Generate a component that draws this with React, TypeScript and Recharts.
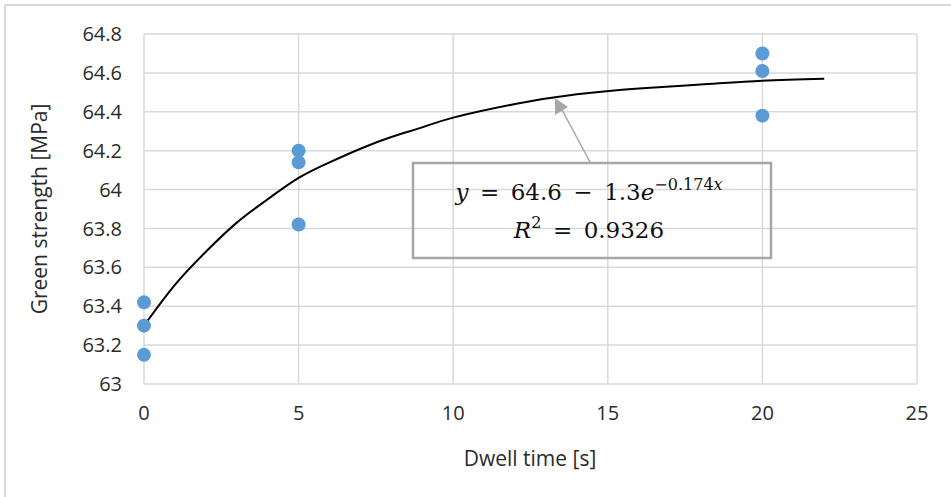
import React from "react";
import {
  CartesianGrid,
  ComposedChart,
  Line,
  Scatter,
  XAxis,
  YAxis,
} from "recharts";

// measured points (dwell time s, green strength MPa)
const dwell = [0, 0, 0, 5, 5, 5, 20, 20, 20];
const strength = [63.42, 63.3, 63.15, 64.2, 64.14, 63.82, 64.7, 64.61, 64.38];

// fitted curve
const fitX = [0, 1, 2, 3, 4, 5, 6, 7, 8, 9, 10, 12, 14, 16, 18, 20, 22];
const fitY = [63.3, 63.51, 63.68, 63.83, 63.95, 64.06, 64.14, 64.21, 64.27, 64.32, 64.37, 64.44, 64.49, 64.52, 64.54, 64.56, 64.57];

const xTicks = [0, 5, 10, 15, 20, 25];
const yTicks = [63, 63.2, 63.4, 63.6, 63.8, 64, 64.2, 64.4, 64.6, 64.8];

const points = dwell.map((x, i) => ({ x, y: strength[i] }));
const fit = fitX.map((x, i) => ({ x, y: fitY[i] }));

const FONT = "'Open Sans', sans-serif";
const TXT = "#2b2b2b";
const SERIF = "'DejaVu Serif', serif";
const SP = "\u2002";

const Dot = (props: any) => (
  <circle cx={props.cx} cy={props.cy} r={7} fill="#5b9bd5" />
);

export default function App() {
  return (
    <div
      style={{
        position: "absolute",
        left: 0,
        top: 0,
        width: 951,
        height: 497,
        background: "#fff",
      }}
    >
      <ComposedChart
        width={951}
        height={497}
        margin={{ top: 34, right: 34, left: 84, bottom: 83 }}
      >
        <CartesianGrid stroke="#d9d9d9" strokeWidth={1.5} />
        <XAxis
          type="number"
          dataKey="x"
          domain={[0, 25]}
          ticks={xTicks}
          axisLine={false}
          tickLine={false}
          tickSize={0}
          tickMargin={22}
          height={30}
          tick={{ fill: TXT, fontSize: 20, fontFamily: FONT }}
        />
        <YAxis
          type="number"
          domain={[63, 64.8]}
          ticks={yTicks}
          axisLine={false}
          tickLine={false}
          tickSize={0}
          tickMargin={22}
          width={60}
          tick={{ fill: TXT, fontSize: 20, fontFamily: FONT }}
        />
        <Line
          data={fit}
          dataKey="y"
          type="natural"
          stroke="#000"
          strokeWidth={2}
          dot={false}
          isAnimationActive={false}
        />
        <Scatter
          data={points}
          dataKey="y"
          shape={Dot}
          isAnimationActive={false}
        />
      </ComposedChart>
      <svg
        width={951}
        height={497}
        style={{ position: "absolute", left: 0, top: 0, pointerEvents: "none" }}
      >
        <line x1={5} y1={5} x2={951} y2={5} stroke="#d9d9d9" strokeWidth={2} />
        <line x1={5} y1={5} x2={5} y2={497} stroke="#d9d9d9" strokeWidth={2} />
        <text
          x={530}
          y={466}
          textAnchor="middle"
          fontFamily={FONT}
          fontSize={21}
          fill={TXT}
        >
          Dwell time [s]
        </text>
        <text
          transform="translate(47,209) rotate(-90)"
          textAnchor="middle"
          fontFamily={FONT}
          fontSize={21}
          fill={TXT}
        >
          Green strength [MPa]
        </text>
        {/* equation callout */}
        <line x1={590} y1={162} x2={561} y2={108} stroke="#a6a6a6" strokeWidth={1.5} />
        <polygon points="555,98 568,107 555,115" fill="#a6a6a6" />
        <rect
          x={413}
          y={163}
          width={358}
          height={95}
          fill="none"
          stroke="#a6a6a6"
          strokeWidth={2.5}
        />
        <text
          x={589}
          y={200}
          textAnchor="middle"
          fontFamily={SERIF}
          fontSize={23}
          fill="#111"
        >
          <tspan fontStyle="italic">y</tspan>
          {`${SP}=${SP}64.6${SP}−${SP}1.3`}
          <tspan fontStyle="italic">e</tspan>
          <tspan dy={-10} fontSize={16}>−0.174</tspan>
          <tspan fontSize={16} fontStyle="italic">x</tspan>
        </text>
        <text
          x={589}
          y={238}
          textAnchor="middle"
          fontFamily={SERIF}
          fontSize={23}
          fill="#111"
        >
          <tspan fontStyle="italic">R</tspan>
          <tspan dy={-10} fontSize={16}>2</tspan>
          <tspan dy={10}>{`${SP}=${SP}0.9326`}</tspan>
        </text>
      </svg>
    </div>
  );
}
